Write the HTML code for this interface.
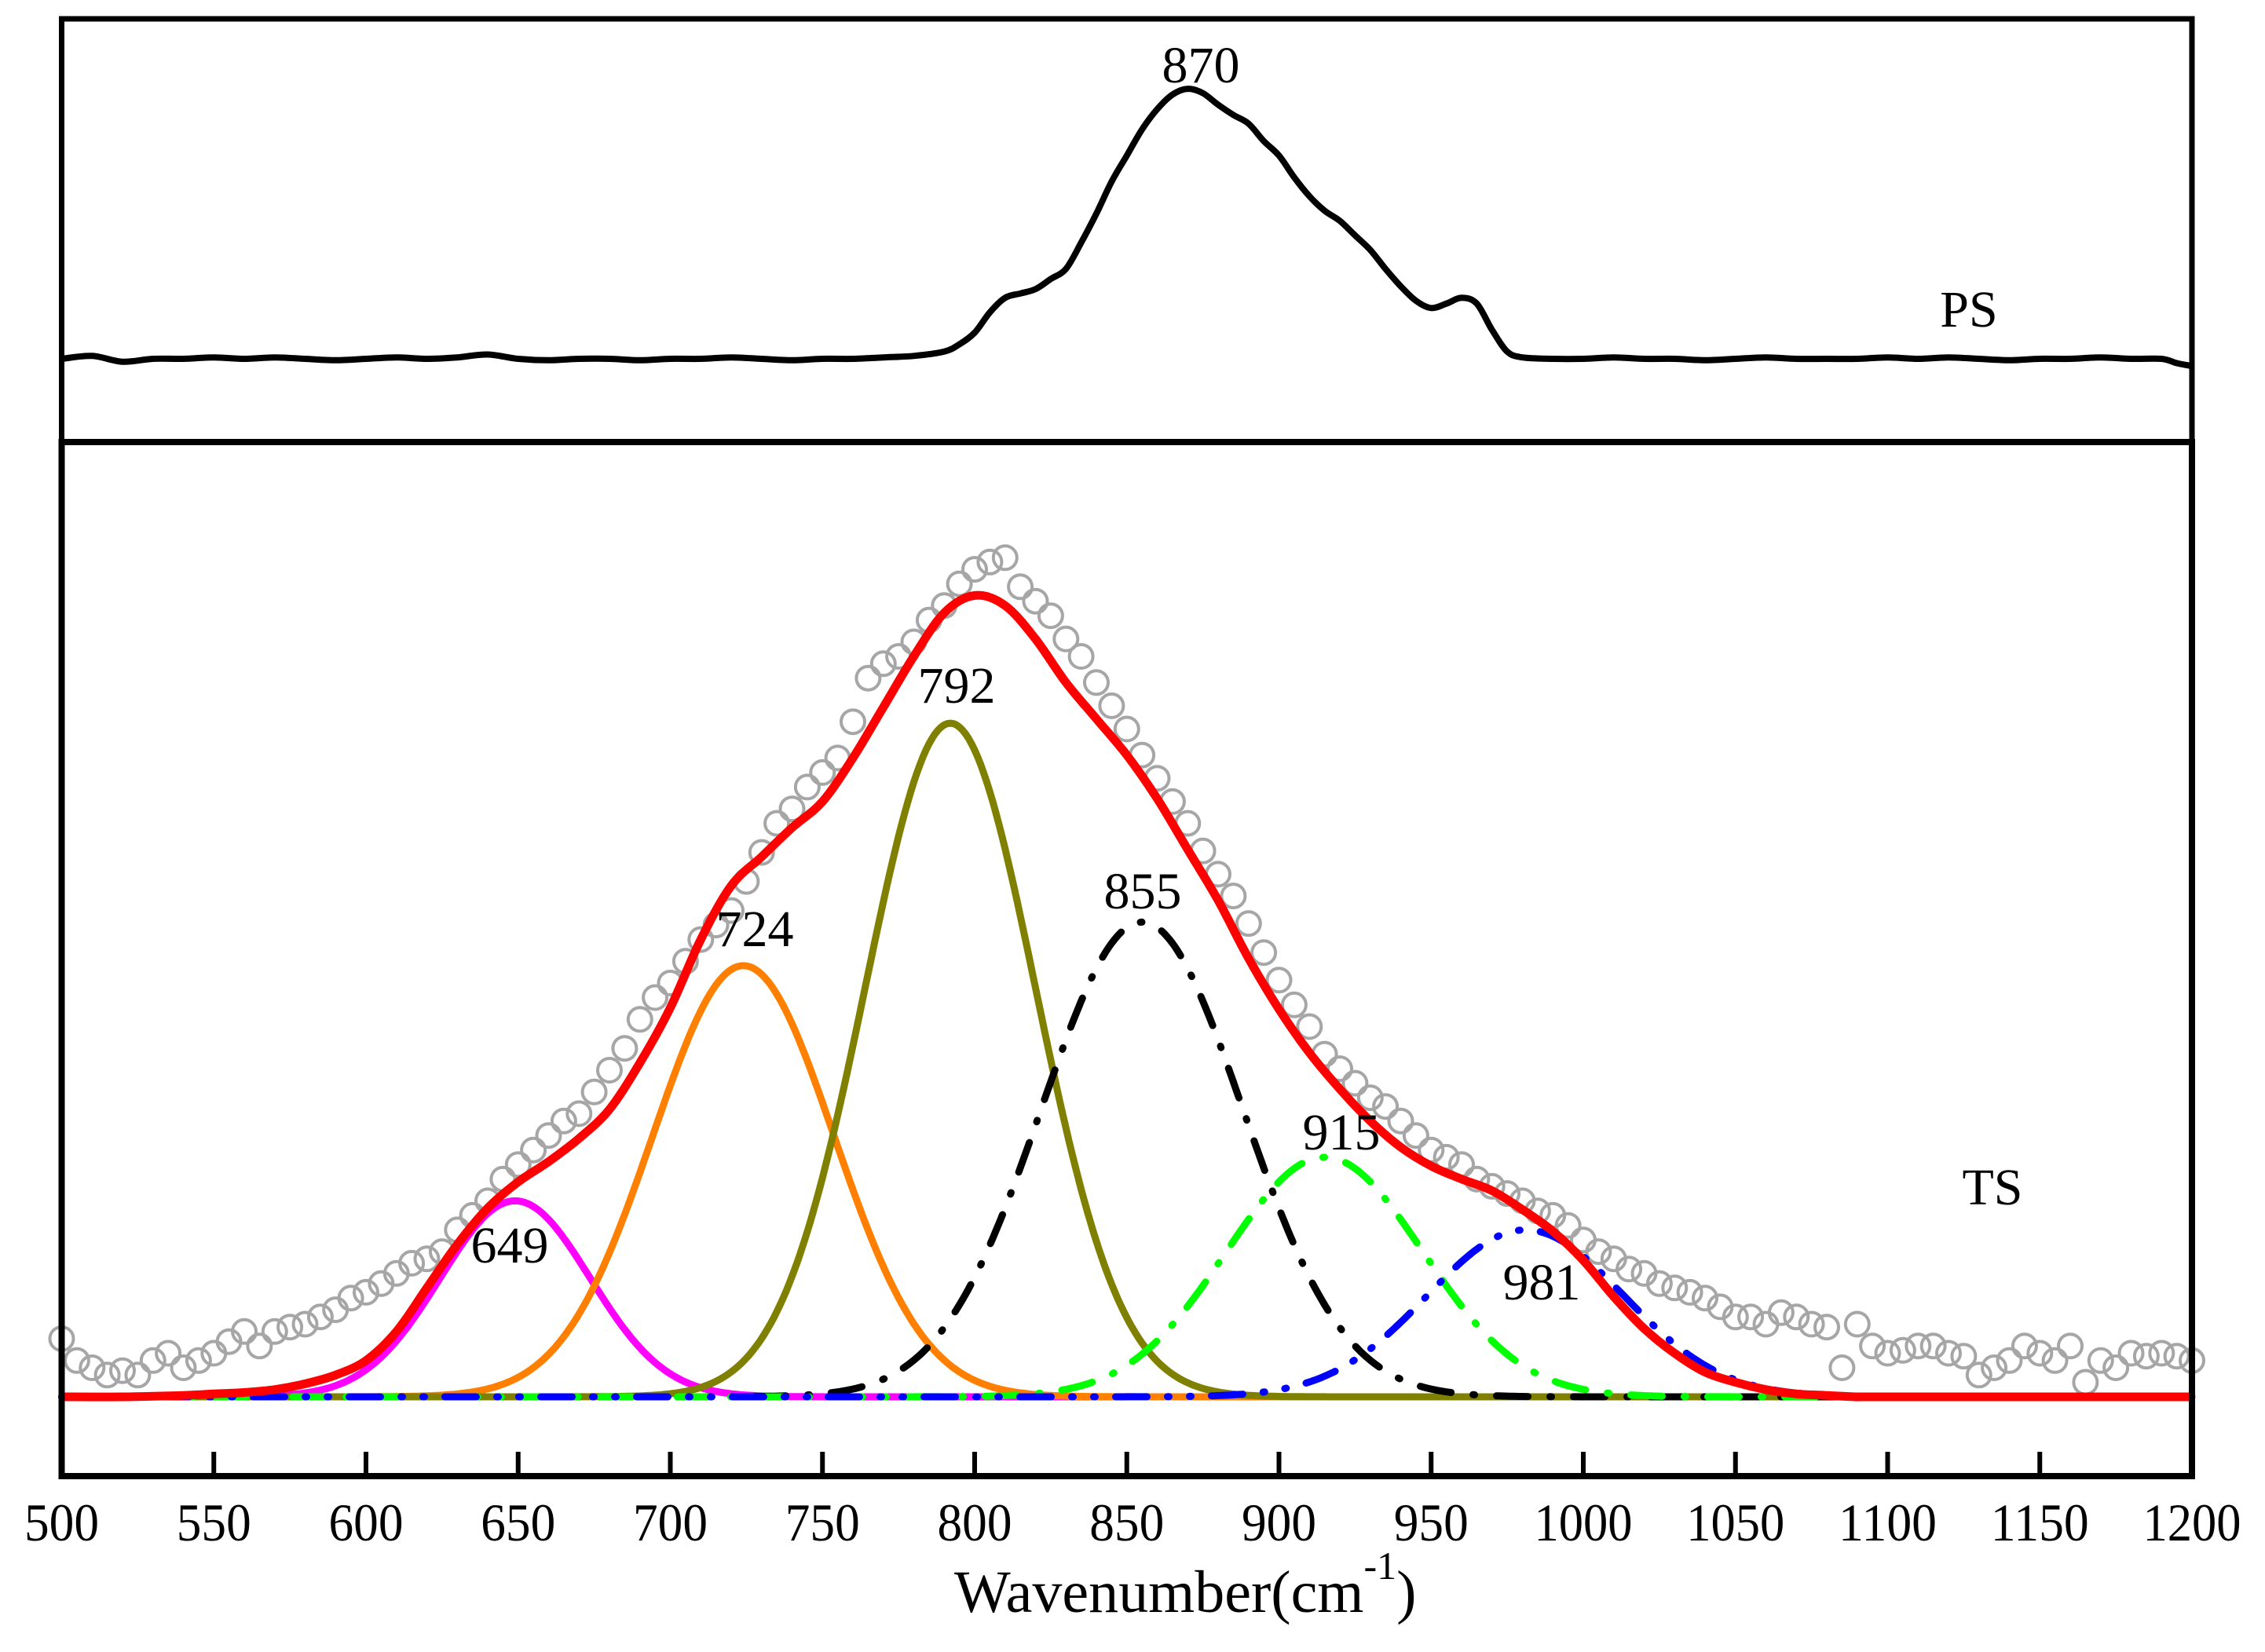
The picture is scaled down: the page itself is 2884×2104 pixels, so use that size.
<!DOCTYPE html>
<html><head><meta charset="utf-8"><style>
html,body{margin:0;padding:0;background:#fff;}
svg{display:block;}
text{font-family:"Liberation Serif",serif;fill:#000;}
</style></head>
<body>
<svg id="chart" width="2884" height="2104" viewBox="0 0 2884 2104" xmlns="http://www.w3.org/2000/svg">
<rect x="0" y="0" width="2884" height="2104" fill="#fff"/>
<g id="top-panel"></g>
<g id="bottom-panel"></g>
<g id="frame"></g>
<g id="labels"></g>
</svg>
<script>
const xTicks = [500,550,600,650,700,750,800,850,900,950,1000,1050,1100,1150,1200];
const psX = [500,510,520,530,540,550,560,570,580,590,600,610,620,630,640,650,660,670,680,690,700,710,720,730,740,750,760,770,780,790,795,800,805,810,815,820,825,830,835,840,845,850,855,860,865,870,875,880,885,890,895,900,905,910,915,920,925,930,935,940,945,950,955,960,965,970,975,980,990,1000,1010,1020,1030,1040,1050,1060,1070,1080,1090,1100,1110,1120,1130,1140,1150,1160,1170,1180,1190,1195,1200];
const psY = [0,2,-2,0,0,1,0,1,0,-1,0,1,0,1,3,0,-1,0,0,-1,0,0,1,0,-1,0,0,1,2,5,10,18,32,42,45,48,55,62,80,100,122,140,158,172,182,186,183,175,168,162,150,140,125,112,102,95,85,75,62,50,40,35,38,42,38,20,5,1,0,0,1,0,0,-1,0,1,0,0,0,1,0,1,0,-1,0,0,1,0,0,-3,-5];
const fitCenters = [649,724,792,855,915,981];
const fitHeights = [135,297,464,327,165,115];
const fitWidths = [58,70,66,78,76,76];
const sumX = [500,520,540,550,560,570,580,590,600,610,620,630,640,650,660,670,680,690,700,710,720,730,740,750,760,770,780,790,800,810,820,830,840,850,860,870,880,890,900,910,920,930,940,950,960,970,980,990,1000,1010,1020,1030,1040,1050,1060,1070,1080,1090,1100,1200];
const sumY = [0,0,1,2,3,5,9,15,25,45,75,105,130,148,162,178,198,230,268,315,352,372,392,410,440,475,510,540,552,545,522,492,467,442,412,377,342,302,267,237,212,190,172,159,150,142,129,114,94,69,47,30,17,10,5,2,1,0,0,0];
const tsX = [500,505,510,515,520,525,530,535,540,545,550,555,560,565,570,575,580,585,590,595,600,605,610,615,620,625,630,635,640,645,650,655,660,665,670,675,680,685,690,695,700,705,710,715,720,725,730,735,740,745,750,755,760,765,770,775,780,785,790,795,800,805,810,815,820,825,830,835,840,845,850,855,860,865,870,875,880,885,890,895,900,905,910,915,920,925,930,935,940,945,950,955,960,965,970,975,980,985,990,995,1000,1005,1010,1015,1020,1025,1030,1035,1040,1045,1050,1055,1060,1065,1070,1075,1080,1085,1090,1095,1100,1105,1110,1115,1120,1125,1130,1135,1140,1145,1150,1155,1160,1165,1170,1175,1180,1185,1190,1195,1200];
const tsY = [40,25,20,15,18,15,25,30,20,25,30,38,45,35,45,48,50,55,60,68,72,78,85,92,95,100,115,125,135,150,160,170,180,190,195,210,225,240,260,275,285,300,315,325,335,355,375,395,405,420,430,440,465,495,505,510,520,535,545,560,570,575,578,558,548,538,522,510,492,476,460,442,426,410,395,376,360,345,326,306,287,270,255,236,226,216,206,200,190,180,170,165,160,150,145,140,135,128,125,118,108,100,95,88,85,78,75,72,68,62,55,55,50,58,55,50,48,20,50,35,30,32,35,35,30,28,15,20,25,35,30,25,35,10,25,20,30,28,30,28,25];
const peakLabels = ['649','724','792','855','915','981'];

(function(){
const NS='http://www.w3.org/2000/svg';
const X0=78.5, X1=2791, XMIN=500, XMAX=1200;
function xs(v){return X0+(v-XMIN)/(XMAX-XMIN)*(X1-X0);}
const TOP_BASE=457, K=1.849;
function ysTop(v){return TOP_BASE-v*K;}
const BOT_BASE=1779;
function ysBot(v){return BOT_BASE-v*K;}
function mk(tag,attrs,parent){const e=document.createElementNS(NS,tag);for(const k in attrs)e.setAttribute(k,attrs[k]);parent.appendChild(e);return e;}
function gauss(x,c,h,w){return h*Math.exp(-4*Math.LN2*((x-c)/w)**2);}
function smooth(pts){
  let p='M'+pts[0][0].toFixed(1)+' '+pts[0][1].toFixed(1);
  for(let i=0;i<pts.length-1;i++){
    const p0=pts[Math.max(0,i-1)],p1=pts[i],p2=pts[i+1],p3=pts[Math.min(pts.length-1,i+2)];
    const c1=[p1[0]+(p2[0]-p0[0])/6,p1[1]+(p2[1]-p0[1])/6];
    const c2=[p2[0]-(p3[0]-p1[0])/6,p2[1]-(p3[1]-p1[1])/6];
    p+='C'+c1[0].toFixed(1)+' '+c1[1].toFixed(1)+' '+c2[0].toFixed(1)+' '+c2[1].toFixed(1)+' '+p2[0].toFixed(1)+' '+p2[1].toFixed(1);
  }
  return p;
}

const topG=document.getElementById('top-panel');
const botG=document.getElementById('bottom-panel');
const frameG=document.getElementById('frame');
const labelsG=document.getElementById('labels');

const ps=mk('path',{d:smooth(psX.map((x,i)=>[xs(x),ysTop(psY[i])])),fill:'none',stroke:'#000','stroke-width':8,'stroke-linejoin':'round'},topG);



tsX.forEach((x,i)=>{
  const c=mk('circle',{cx:xs(x).toFixed(1),cy:ysBot(tsY[i]).toFixed(1),r:15,fill:'none',stroke:'#a6a6a6','stroke-width':4},botG);
  
  
});

const styles=[
 {c:'#ff00ff',dash:''},
 {c:'#ff8000',dash:''},
 {c:'#808000',dash:''},
 {c:'#000000',dash:'40 28 2 28'},
 {c:'#00ff00',dash:'40 28 2 28'},
 {c:'#0000ff',dash:'40 26 2 26 2 26'}
];
const names=['peak-649-curve','peak-724-curve','peak-792-curve','peak-855-curve','peak-915-curve','peak-981-curve'];
fitCenters.forEach((c,k)=>{
  let p='';
  for(let x=XMIN;x<=XMAX;x+=1){p+=(x===XMIN?'M':'L')+xs(x).toFixed(1)+' '+ysBot(gauss(x,c,fitHeights[k],fitWidths[k])).toFixed(1);}
  const a={d:p,fill:'none',stroke:styles[k].c,'stroke-width':9,'stroke-linecap':'round','stroke-linejoin':'round'};
  if(styles[k].dash)a['stroke-dasharray']=styles[k].dash;
  const e=mk('path',a,botG);
  
  
});
const red=mk('path',{d:smooth(sumX.map((x,i)=>[xs(x),ysBot(sumY[i])])),fill:'none',stroke:'#ff0000','stroke-width':11,'stroke-linejoin':'round'},botG);



const r1=mk('rect',{x:X0,y:24,width:X1-X0,height:563-24,fill:'none',stroke:'#000','stroke-width':7},frameG);


const r2=mk('rect',{x:X0,y:563,width:X1-X0,height:1880-563,fill:'none',stroke:'#000','stroke-width':8},frameG);


xTicks.forEach(t=>{
  const l=mk('line',{x1:xs(t),x2:xs(t),y1:1880,y2:1849,stroke:'#000','stroke-width':6},frameG);
  
  
  const s=String(t);
  const tx=mk('text',{x:xs(t),y:1962,'font-size':68,'text-anchor':'middle',textLength:s.length===4?125:95,lengthAdjust:'spacingAndGlyphs'},frameG);
  tx.textContent=s;
  
  
});
const title=mk('text',{x:1215,y:2053,'font-size':76},frameG);


const t1=mk('tspan',{},title);t1.textContent='Wavenumber(cm';
const t2=mk('tspan',{dy:-42,'font-size':50},title);t2.textContent='-1';
const t3=mk('tspan',{dy:42},title);t3.textContent=')';

const lab=[['870',1529,83],['PS',2507,394],['TS',2537,1512]];
const peakPos=[[649,1586],[961,1183],[1218,873],[1455,1135],[1708,1442],[1963,1633]];
peakLabels.forEach((s,k)=>{lab.push([s,peakPos[k][0],peakPos[k][1]]);});
lab.forEach(a=>{
  const t=mk('text',{x:a[1],y:a[2]+22,'font-size':66,'text-anchor':'middle'},labelsG);
  t.textContent=a[0];
  
  
});
})();
</script>
</body></html>
